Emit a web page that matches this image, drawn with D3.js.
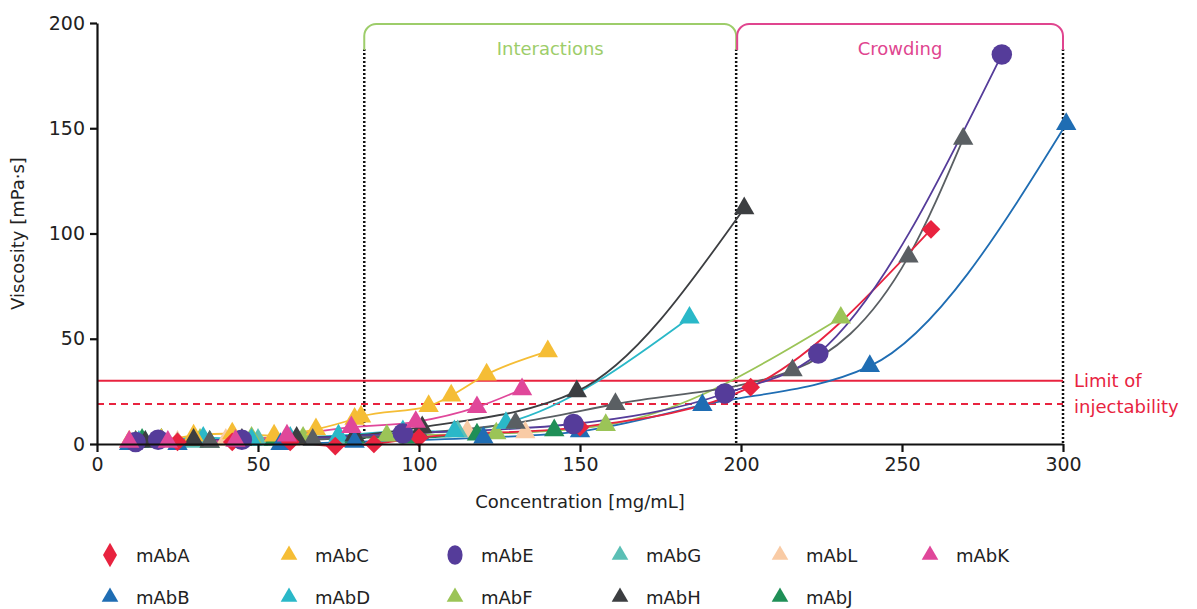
<!DOCTYPE html>
<html>
<head>
<meta charset="utf-8">
<script src="https://cdn.jsdelivr.net/npm/d3@7"></script>
<style>
  body { margin: 0; background: #fff; }
  text { font-family: "DejaVu Sans", Verdana, sans-serif; }
</style>
</head>
<body>
<div id="chart"></div>
<script>
var width = 1197;
var height = 609;

// data: [concentration mg/mL, viscosity mPa·s]
var mAbA = [[25,1],[42,1],[60,1],[74,-1],[86,0],[100,3],[150,8],[203,27],[259,102]];
var mAbB = [[10,0],[25,0],[57,0],[80,1],[120,3],[150,6],[188,18.5],[240,37],[301,152]];
var mAbC = [[10,1],[20,2],[30,4],[42,5],[55,4],[68,7],[80,12],[82,13],[103,18],[110,23],[121,33],[140,44]];
var mAbD = [[13,1],[20,2],[33,3],[48,2],[60,3],[75,4],[95,6],[111,6],[127,10],[184,60]];
var mAbE = [[12,1],[19,2],[45,2],[95,5],[148,9.5],[195,24],[224,43],[281,185]];
var mAbF = [[12,1],[20,2],[32,2],[48,3],[64,3],[90,4],[124,5],[158,9],[231,60]];
var mAbG = [[15,1],[30,1],[50,2],[75,3],[95,5],[112,6]];
var mAbH = [[15,1],[30,2],[45,2],[62,3],[80,4],[101,8],[149,25],[201,112]];
var mAbI = [[12,1],[35,1],[67,2],[100,5],[130,10],[161,19],[216,35],[252,89],[269,145]];
var mAbJ = [[14,2],[35,1],[55,2],[80,3],[97,3],[118,4.5],[142,6.5]];
var mAbK = [[10,1],[22,1],[43,1.5],[59,4],[79,8],[99,10.5],[118,17.5],[132,26]];
var mAbL = [[10,1],[25,1],[40,2],[60,2],[80,3],[95,5],[115,6],[133,5.5]];

var xTicks = [0, 50, 100, 150, 200, 250, 300];
var yTicks = [0, 50, 100, 150, 200];
var limitSolid = 30;
var limitDashed = 19;
var regionBounds = [83, 198.5, 300];
var regionNames = ["Interactions", "Crowding"];

var series = [
  { name: "mAbL", data: mAbL, color: "#f9cba5", shape: "triangle" },
  { name: "mAbG", data: mAbG, color: "#5bbfb5", shape: "triangle" },
  { name: "mAbJ", data: mAbJ, color: "#1f8f57", shape: "triangle" },
  { name: "mAbF", data: mAbF, color: "#9bc457", shape: "triangle" },
  { name: "mAbD", data: mAbD, color: "#2ab8c8", shape: "triangle" },
  { name: "mAbC", data: mAbC, color: "#f5bd35", shape: "triangle" },
  { name: "mAbI", data: mAbI, color: "#5a5f63", shape: "triangle" },
  { name: "mAbH", data: mAbH, color: "#3c3e41", shape: "triangle" },
  { name: "mAbB", data: mAbB, color: "#1f6db3", shape: "triangle" },
  { name: "mAbA", data: mAbA, color: "#e8233f", shape: "diamond" },
  { name: "mAbE", data: mAbE, color: "#553c9a", shape: "circle" },
  { name: "mAbK", data: mAbK, color: "#e0479a", shape: "triangle" }
];
var colorOf = {};
series.forEach(s => colorOf[s.name] = s);

var legendRows = [
  ["mAbA", "mAbC", "mAbE", "mAbG", "mAbL", "mAbK"],
  ["mAbB", "mAbD", "mAbF", "mAbH", "mAbJ"]
];

var margin = { left: 97, right: 134, top: 23, bottom: 165 };

var svg = d3.select('#chart').append('svg')
  .attr('width', width)
  .attr('height', height);

var xScale = d3.scaleLinear().domain([0, 300]).range([margin.left, width - margin.right]);
var yScale = d3.scaleLinear().domain([0, 200]).range([height - margin.bottom, margin.top]);

function symbolPath(shape, legend) {
  if (shape == 'circle') return d3.symbol(d3.symbolCircle, legend ? 250 : 330)();
  if (shape == 'diamond') return legend ? d3.symbol(d3.symbolDiamond, 170)() : d3.symbol(d3.symbolSquare, 175)();
  return d3.symbol(d3.symbolTriangle, legend ? 120 : 180)();
}

// dotted region boundaries
regionBounds.forEach(function (b) {
  svg.append('line')
    .attr('x1', xScale(b)).attr('x2', xScale(b))
    .attr('y1', margin.top + 26).attr('y2', yScale(0))
    .attr('stroke', '#111').attr('stroke-width', 2.5)
    .attr('stroke-dasharray', '2,2');
});

// brackets on top
var bracketColors = ["#9dcd6a", "#e0458f"];
var r = 12;
[0, 1].forEach(function (i) {
  var x0 = xScale(regionBounds[i]) + (i == 1 ? 1 : 0);
  var x1 = xScale(regionBounds[i + 1]);
  var top = margin.top + 1;
  var bottom = margin.top + 27;
  var p = d3.path();
  p.moveTo(x0, bottom);
  p.lineTo(x0, top + r);
  p.arcTo(x0, top, x0 + r, top, r);
  p.lineTo(x1 - r, top);
  p.arcTo(x1, top, x1, top + r, r);
  p.lineTo(x1, bottom);
  svg.append('path').attr('d', p.toString())
    .attr('fill', 'none').attr('stroke', bracketColors[i]).attr('stroke-width', 2);
  svg.append('text')
    .attr('x', (x0 + x1) / 2).attr('y', margin.top + 32)
    .attr('text-anchor', 'middle')
    .style('font-size', '18px')
    .attr('fill', bracketColors[i])
    .text(regionNames[i]);
});

// limit of injectability lines
svg.append('line')
  .attr('x1', xScale(0)).attr('x2', xScale(300))
  .attr('y1', yScale(limitSolid)).attr('y2', yScale(limitSolid))
  .attr('stroke', '#e8233f').attr('stroke-width', 2);
svg.append('line')
  .attr('x1', xScale(0)).attr('x2', xScale(300))
  .attr('y1', yScale(limitDashed)).attr('y2', yScale(limitDashed))
  .attr('stroke', '#e8233f').attr('stroke-width', 2)
  .attr('stroke-dasharray', '7,5');
svg.append('text')
  .attr('x', xScale(300) + 11).attr('y', yScale(limitSolid) + 6)
  .style('font-size', '18px').attr('fill', '#e8233f')
  .text('Limit of');
svg.append('text')
  .attr('x', xScale(300) + 11).attr('y', yScale(limitSolid) + 32)
  .style('font-size', '18px').attr('fill', '#e8233f')
  .text('injectability');

// lines
var line = d3.line()
  .x(d => xScale(d[0]))
  .y(d => yScale(d[1]))
  .curve(d3.curveMonotoneX);

var plot = svg.append('g');
series.forEach(function (s) {
  plot.append('path')
    .attr('d', line(s.data))
    .attr('fill', 'none')
    .attr('stroke', s.color)
    .attr('stroke-width', 1.8);
});
series.forEach(function (s) {
  plot.selectAll(null)
    .data(s.data)
    .enter()
    .append('path')
      .attr('d', symbolPath(s.shape))
      .attr('transform', d => 'translate(' + xScale(d[0]) + ',' + yScale(d[1]) + ')' + (s.shape == 'diamond' ? ' rotate(45)' : ''))
      .attr('fill', s.color);
});

// axes
var xAxis = d3.axisBottom(xScale).tickValues(xTicks).tickSizeInner(8).tickSizeOuter(0).tickPadding(6);
var yAxis = d3.axisLeft(yScale).tickValues(yTicks).tickSizeInner(7).tickSizeOuter(0).tickPadding(5);

var gx = svg.append('g')
  .attr('transform', 'translate(0,' + yScale(0) + ')')
  .call(xAxis);
var gy = svg.append('g')
  .attr('transform', 'translate(' + xScale(0) + ',0)')
  .call(yAxis);
[gx, gy].forEach(function (g) {
  g.select('.domain').attr('stroke', '#111').attr('stroke-width', 2.2);
  g.selectAll('.tick line').attr('stroke', '#111').attr('stroke-width', 2.2);
  g.selectAll('.tick text').style('font-size', '19px').style('font-family', '"DejaVu Sans", Verdana, sans-serif').attr('fill', '#222');
});

svg.append('text')
  .attr('x', (xScale(0) + xScale(300)) / 2)
  .attr('y', yScale(0) + 64)
  .attr('text-anchor', 'middle')
  .style('font-size', '18px').attr('fill', '#222')
  .text('Concentration [mg/mL]');
svg.append('text')
  .attr('transform', 'rotate(-90)')
  .attr('x', -(yScale(0) + yScale(200)) / 2)
  .attr('y', 24)
  .attr('text-anchor', 'middle')
  .style('font-size', '18px').attr('fill', '#222')
  .text('Viscosity [mPa·s]');

// legend
var legendX = [110, 289, 455, 620, 780, 930];
var legendY = [555, 597];
legendRows.forEach(function (row, ri) {
  row.forEach(function (name, ci) {
    var s = colorOf[name];
    var g = svg.append('g').attr('transform', 'translate(' + legendX[ci] + ',' + legendY[ri] + ')');
    g.append('path').attr('d', symbolPath(s.shape, true)).attr('fill', s.color)
      .attr('transform', s.shape == 'circle' ? 'scale(0.85,1.1)' : null);
    g.append('text').attr('x', 26).attr('y', 7)
      .style('font-size', '18px').attr('fill', '#222')
      .text(name);
  });
});
</script>
</body>
</html>
